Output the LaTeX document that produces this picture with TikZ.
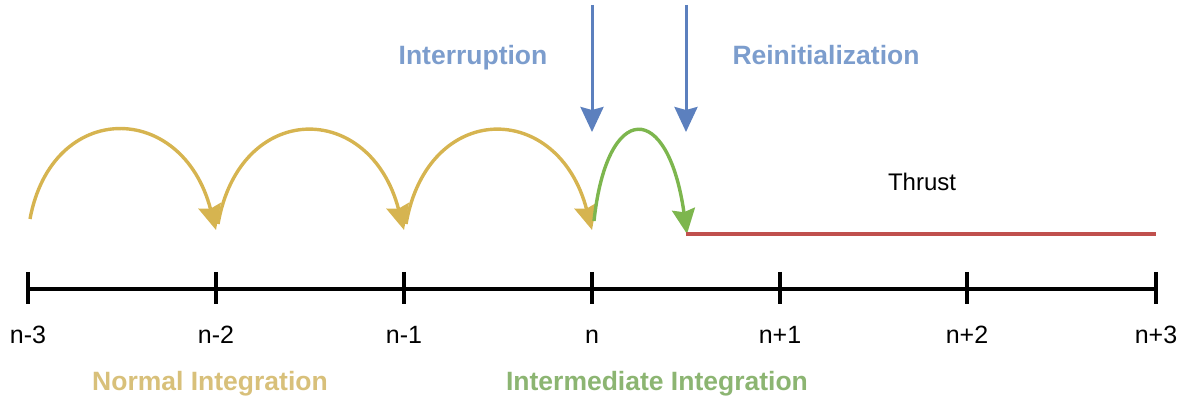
\documentclass[tikz,border=0pt]{standalone}
\usepackage{fontspec}
\setmainfont{Liberation Sans}
\usetikzlibrary{arrows.meta}
\definecolor{goldarc}{HTML}{D6B450}
\definecolor{goldtxt}{HTML}{D8C07A}
\definecolor{greenarc}{HTML}{7DB64E}
\definecolor{greentxt}{HTML}{8CB572}
\definecolor{bluearr}{HTML}{5C80BE}
\definecolor{bluetxt}{HTML}{7C9DCD}
\definecolor{thrustred}{HTML}{C0504D}
\tikzset{
  axisline/.style={line width=3.6pt, black},
  tickline/.style={line width=3.4pt, black},
  ticklabel/.style={font=\fontsize{25}{28}\selectfont, anchor=base, inner sep=0pt},
  phaselabel/.style={font=\bfseries\fontsize{26.5}{30}\selectfont, anchor=base, inner sep=0pt},
  tip/.style={-{Stealth[length=25pt,width=23pt,inset=3pt]}},
  goldstep/.style={tip, line width=3.4pt, goldarc},
  greenstep/.style={tip, line width=3.4pt, greenarc},
  bluedrop/.style={tip, line width=3pt, bluearr},
}
\begin{document}
\begin{tikzpicture}[x=1pt,y=-1pt]
\useasboundingbox (0,0) rectangle (1181,398);
% axis ticks
\foreach \n/\x in {t0/28,t1/216,t2/404,t3/592,t4/780,t5/967,t6/1156}{
  \coordinate (\n) at (\x,289);
  \coordinate (\n top) at (\x,272);
  \coordinate (\n bot) at (\x,304);
}
\draw[axisline] (t0) -- (t6);
\foreach \n in {t0,t1,t2,t3,t4,t5,t6}{
  \draw[tickline] (\n top) -- (\n bot);
}
% tick labels
\node[ticklabel] (l0) at (28,343) {n-3};
\node[ticklabel] (l1) at (216,343) {n-2};
\node[ticklabel] (l2) at (404,343) {n-1};
\node[ticklabel] (l3) at (592,343) {n};
\node[ticklabel] (l4) at (780,343) {n+1};
\node[ticklabel] (l5) at (967,343) {n+2};
\node[ticklabel] (l6) at (1156,343) {n+3};
% phase labels
\node[phaselabel, text=goldtxt] (normal) at (210,390) {Normal Integration};
\node[phaselabel, text=greentxt] (inter) at (657,390) {Intermediate Integration};
\node[phaselabel, text=bluetxt] (interr) at (473,65) {Interruption};
\node[phaselabel, text=bluetxt] (reinit) at (826,65) {Reinitialization};
\node[font=\fontsize{24}{28}\selectfont, anchor=base, inner sep=0pt] (thrust) at (922,191) {Thrust};
% arc endpoints
\coordinate (a0) at (30,219);
\coordinate (a1) at (216,230);
\coordinate (a1s) at (218,224);
\coordinate (a2) at (404,230);
\coordinate (a2s) at (406,224);
\coordinate (a3) at (592,230);
\coordinate (g0) at (594,221);
\coordinate (g1) at (687,234);
% gold arcs
\draw[goldstep] (a0) .. controls (52,100) and (182,100) .. (a1);
\draw[goldstep] (a1s) .. controls (240,100) and (370,100) .. (a2);
\draw[goldstep] (a2s) .. controls (428,100) and (558,100) .. (a3);
% green arc
\draw[greenstep] (g0) .. controls (607,100) and (668,100) .. (g1);
% blue arrows
\coordinate (b0s) at (592,5);
\coordinate (b0e) at (592,132);
\coordinate (b1s) at (686,5);
\coordinate (b1e) at (686,132);
\draw[bluedrop] (b0s) -- (b0e);
\draw[bluedrop] (b1s) -- (b1e);
% thrust line
\coordinate (r1) at (1156,234);
\draw[line width=3.4pt, thrustred] (686,234) coordinate (r0) -- (r1);
\end{tikzpicture}
\end{document}
